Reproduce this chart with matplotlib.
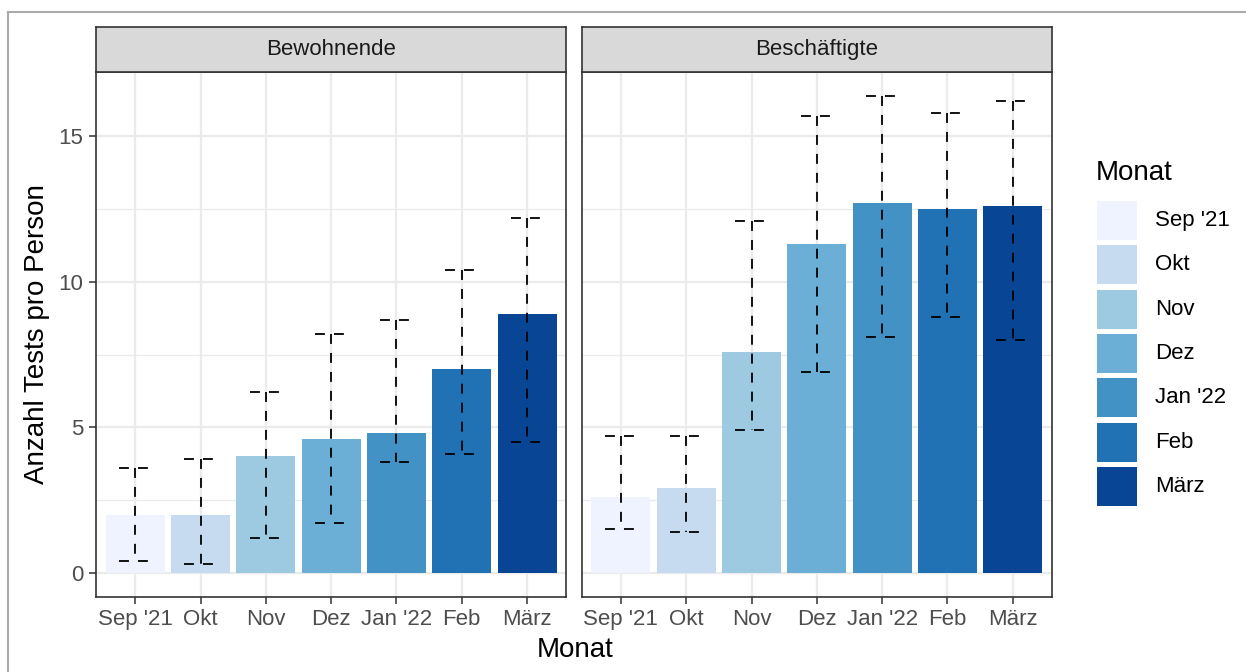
import matplotlib
matplotlib.use("Agg")
import matplotlib.pyplot as plt
from matplotlib.patches import Rectangle
from matplotlib.lines import Line2D
from matplotlib.ticker import MultipleLocator

plt.rcParams['font.family'] = ['Liberation Sans', 'DejaVu Sans']

# Daten
monate = ["Sep '21", "Okt", "Nov", "Dez", "Jan '22", "Feb", "März"]
gruppen = ["Bewohnende", "Beschäftigte"]

bew_mittel = [2.0, 2.0, 4.0, 4.6, 4.8, 7.0, 8.9]
bew_unten = [0.4, 0.3, 1.2, 1.7, 3.8, 4.1, 4.5]
bew_oben = [3.6, 3.9, 6.2, 8.2, 8.7, 10.4, 12.2]

besch_mittel = [2.6, 2.9, 7.6, 11.3, 12.7, 12.5, 12.6]
besch_unten = [1.5, 1.4, 4.9, 6.9, 8.1, 8.8, 8.0]
besch_oben = [4.7, 4.7, 12.1, 15.7, 16.4, 15.8, 16.2]

farben = ["#EFF3FF", "#C6DBEF", "#9ECAE1", "#6BAED6", "#4292C6", "#2171B5", "#084594"]

W, H = 1246, 672
fig = plt.figure(figsize=(W / 100, H / 100), dpi=100)


def fx(px):
    return px / W


def fy(py):
    return 1 - py / H


# Rahmen oben / links (Screenshot)
fig.add_artist(Line2D([fx(8), 1], [fy(12), fy(12)], color="#AAAAAA", lw=1.5, transform=fig.transFigure))
fig.add_artist(Line2D([fx(8), fx(8)], [fy(12), 0], color="#AAAAAA", lw=1.5, transform=fig.transFigure))

panel_links = [96, 581.7]
panel_breite = 470.3
oben, unten = 71.7, 596.7
strip_oben = 27

daten = [(bew_mittel, bew_unten, bew_oben), (besch_mittel, besch_unten, besch_oben)]
x = list(range(1, len(monate) + 1))
ymax_all = max(max(bew_oben), max(besch_oben))

achsen = []
for i, (mittel, lo, hi) in enumerate(daten):
    ax = fig.add_axes([fx(panel_links[i]), fy(unten), fx(panel_breite), (unten - oben) / H])
    achsen.append(ax)
    ax.bar(x, mittel, width=0.9, color=farben, zorder=2)
    for xi, l, h in zip(x, lo, hi):
        kw = dict(color="black", lw=1.3, linestyle=(0, (5.5, 5)), zorder=3, solid_capstyle="butt",
                  dash_capstyle="butt")
        ax.plot([xi - 0.25, xi + 0.25], [h, h], **kw)
        ax.plot([xi, xi], [h, l], **kw)
        ax.plot([xi - 0.25, xi + 0.25], [l, l], **kw)
    ax.set_xlim(0.4, 7.6)
    ax.set_ylim(-0.05 * ymax_all, ymax_all * 1.05)
    ax.set_xticks(x)
    ax.set_xticklabels(monate)
    ax.yaxis.set_major_locator(MultipleLocator(5))
    ax.yaxis.set_minor_locator(MultipleLocator(2.5))
    ax.grid(True, which="major", color="#EBEBEB", lw=1.6, zorder=0)
    ax.grid(True, which="minor", axis="y", color="#EBEBEB", lw=0.9, zorder=0)
    ax.set_axisbelow(True)
    for s in ax.spines.values():
        s.set_color("#333333")
        s.set_linewidth(1.2)
        s.set_zorder(5)
    ax.tick_params(axis="both", which="major", length=5, width=1.1, color="#333333",
                   labelsize=16, labelcolor="#4D4D4D", pad=4)
    ax.tick_params(axis="y", which="minor", length=0)
    if i == 1:
        ax.tick_params(axis="y", which="both", left=False, labelleft=False)

    # Streifen
    sax = fig.add_axes([fx(panel_links[i]), fy(oben), fx(panel_breite), (oben - strip_oben) / H])
    sax.set_facecolor("#D9D9D9")
    sax.set_xticks([])
    sax.set_yticks([])
    for s in sax.spines.values():
        s.set_color("#333333")
        s.set_linewidth(1.2)
    sax.text(0.5, 0.5, gruppen[i], ha="center", va="center", fontsize=16, color="#1A1A1A",
             transform=sax.transAxes)

fig.text(fx(37), fy((oben + unten) / 2), "Anzahl Tests pro Person", rotation=90,
         ha="center", va="center", fontsize=20, color="black")
fig.text(fx(575), fy(650), "Monat", ha="center", va="center", fontsize=20, color="black")

# Legende
fig.text(fx(1096), fy(173), "Monat", ha="left", va="center", fontsize=20, color="black")
for k, (m, c) in enumerate(zip(monate, farben)):
    top = 201 + 44.3 * k
    fig.add_artist(Rectangle((fx(1097), fy(top + 39)), fx(40), 39 / H, facecolor=c,
                             edgecolor="none", transform=fig.transFigure))
    fig.text(fx(1155), fy(top + 19.5), m, ha="left", va="center", fontsize=16, color="black")

fig.savefig("out.png", dpi=100)
